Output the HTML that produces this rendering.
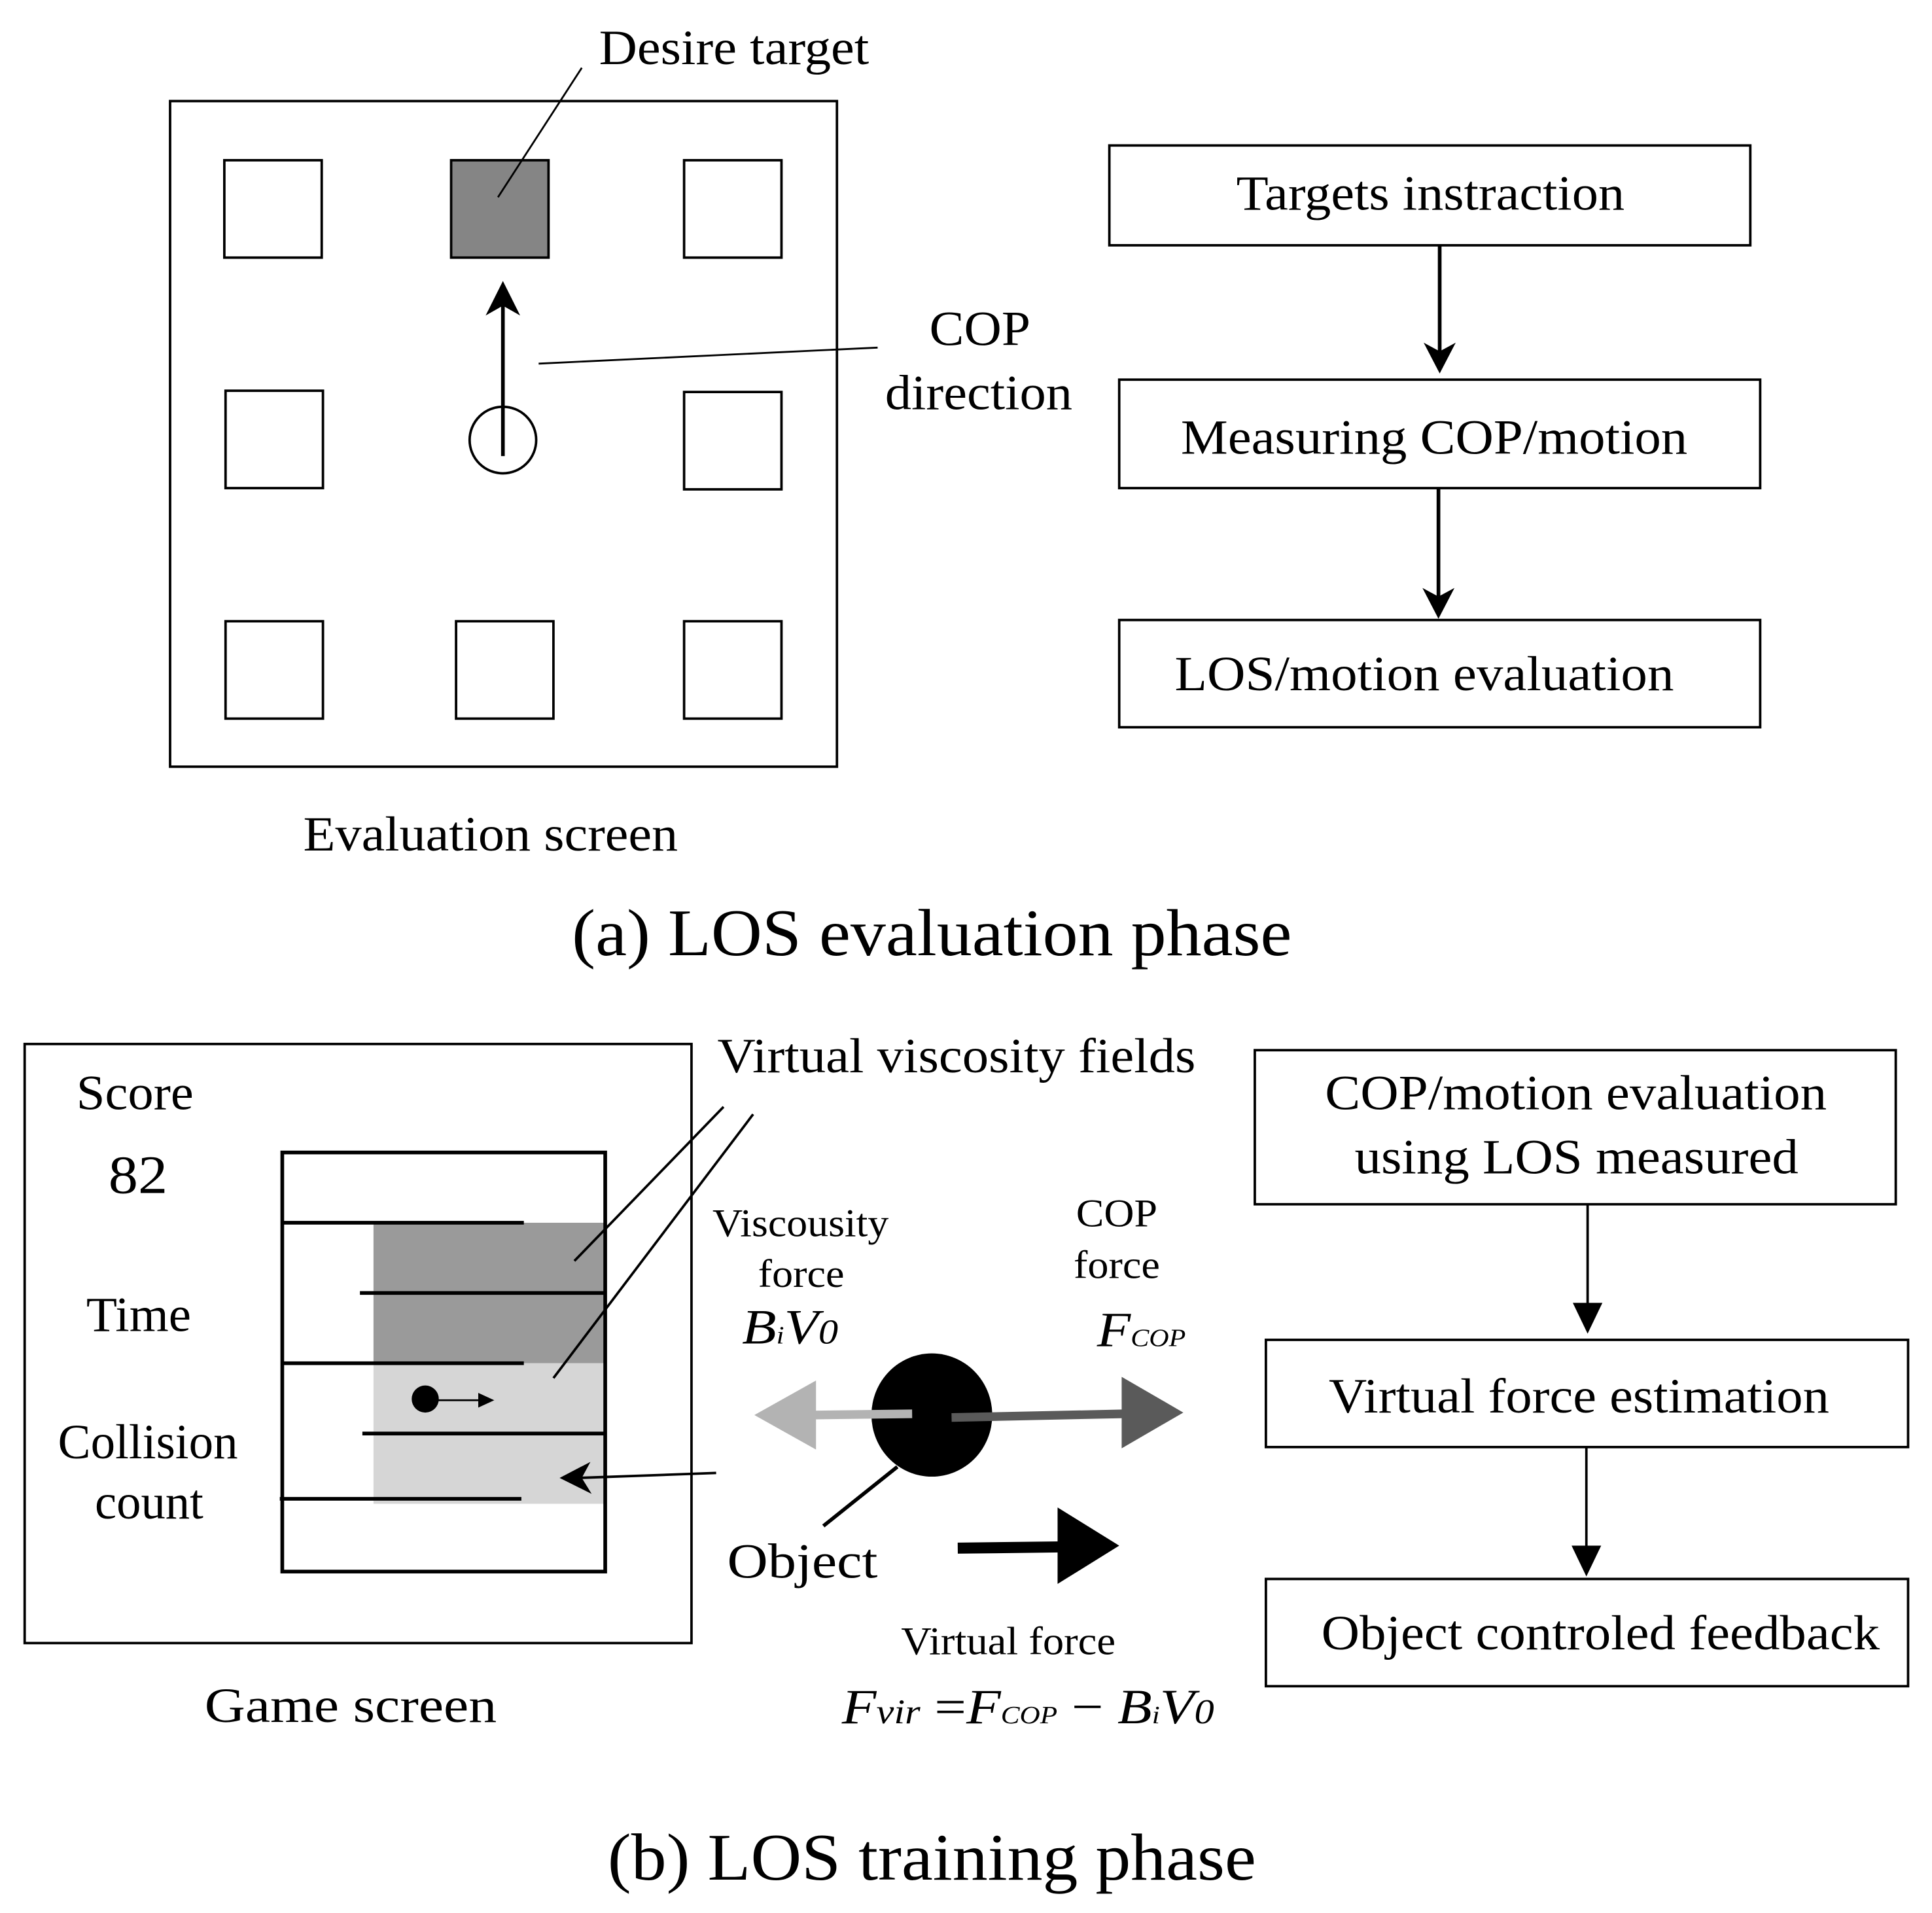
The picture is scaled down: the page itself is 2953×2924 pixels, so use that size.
<!DOCTYPE html>
<html><head><meta charset="utf-8"><style>
html,body{margin:0;padding:0;background:#fff;}
svg{display:block;}
text{font-family:"Liberation Serif",serif;fill:#000;}
</style></head><body>
<svg width="2953" height="2924" viewBox="0 0 1567.4 1552" preserveAspectRatio="none" xmlns="http://www.w3.org/2000/svg">
<rect width="1568" height="1552" fill="#fff"/>
<g fill="none" stroke="#000" stroke-width="2">
<rect x="138" y="82" width="541" height="540"/>
<rect x="182" y="130" width="79" height="79"/>
<rect x="366" y="130" width="79" height="79" fill="#858585"/>
<rect x="555" y="130" width="79" height="79"/>
<rect x="183" y="317" width="79" height="79"/>
<rect x="555" y="318" width="79" height="79"/>
<rect x="183" y="504" width="79" height="79"/>
<rect x="370" y="504" width="79" height="79"/>
<rect x="555" y="504" width="79" height="79"/>
<circle cx="408" cy="357" r="27"/>
<line x1="472" y1="55" x2="404" y2="160" stroke-width="1.5"/>
<line x1="437" y1="295" x2="712" y2="282" stroke-width="1.5"/>
<line x1="408" y1="370" x2="408" y2="244" stroke-width="3"/>
<rect x="900" y="118" width="520" height="81"/>
<rect x="908" y="308" width="520" height="88"/>
<rect x="908" y="503" width="520" height="87"/>
<line x1="1168" y1="199" x2="1168" y2="285" stroke-width="3"/>
<line x1="1167" y1="396" x2="1167" y2="484" stroke-width="3"/>
<rect x="20" y="847" width="541" height="486"/>
</g>
<polygon points="408,228 394,256 408,248 422,256" fill="#000"/>
<polygon points="1168,303 1155,278 1168,285 1181,278" fill="#000"/>
<polygon points="1167,502 1154,477 1167,484 1180,477" fill="#000"/>

<rect x="303" y="992" width="188" height="114" fill="#9a9a9a"/>
<rect x="303" y="1106" width="188" height="114" fill="#d6d6d6"/>
<g stroke="#000" stroke-width="3" fill="none">
<rect x="229" y="935" width="262" height="340"/>
<line x1="229" y1="992" x2="425" y2="992"/>
<line x1="292" y1="1049" x2="491" y2="1049"/>
<line x1="229" y1="1106" x2="425" y2="1106"/>
<line x1="294" y1="1163" x2="491" y2="1163"/>
<line x1="227" y1="1216" x2="423" y2="1216"/>
</g>
<g stroke="#000" stroke-width="2">
<line x1="587" y1="898" x2="466" y2="1023"/>
<line x1="611" y1="904" x2="449" y2="1118"/>
<line x1="345" y1="1136" x2="392" y2="1136" stroke-width="1.5"/>
<line x1="581" y1="1195" x2="470" y2="1199"/>
<line x1="668" y1="1238" x2="728" y2="1190" stroke-width="3"/>
<line x1="1288" y1="977" x2="1288" y2="1062"/>
<line x1="1287" y1="1174" x2="1287" y2="1259"/>
</g>
<ellipse cx="345" cy="1135" rx="11" ry="11" fill="#000"/>
<polygon points="401,1136 388,1130 388,1142" fill="#000"/>
<polygon points="454,1199 479,1186 472,1199 480,1212" fill="#000"/>
<polygon points="1288,1082 1276,1057 1300,1057" fill="#000"/>
<polygon points="1287,1279 1275,1254 1299,1254" fill="#000"/>
<g fill="none" stroke="#000" stroke-width="2">
<rect x="1018" y="852" width="520" height="125"/>
<rect x="1027" y="1087" width="521" height="87"/>
<rect x="1027" y="1281" width="521" height="87"/>
</g>

<ellipse cx="756" cy="1148" rx="49" ry="50" fill="#000"/>
<line x1="740" y1="1147" x2="660" y2="1148" stroke="#b3b3b3" stroke-width="7"/>
<polygon points="612,1148 662,1120 662,1176" fill="#b3b3b3"/>
<line x1="772" y1="1150" x2="912" y2="1147" stroke="#5a5a5a" stroke-width="7"/>
<polygon points="960,1146 910,1117 910,1175" fill="#5a5a5a"/>
<line x1="777" y1="1256" x2="860" y2="1255" stroke="#000" stroke-width="9"/>
<polygon points="908,1254 858,1223 858,1285" fill="#000"/>

<g font-size="40">
<text x="486" y="52" textLength="219" lengthAdjust="spacingAndGlyphs">Desire target</text>
<text x="754" y="280" textLength="82" lengthAdjust="spacingAndGlyphs">COP</text>
<text x="718" y="332" textLength="152" lengthAdjust="spacingAndGlyphs">direction</text>
<text x="1003" y="170" textLength="315" lengthAdjust="spacingAndGlyphs">Targets instraction</text>
<text x="958" y="368" textLength="411" lengthAdjust="spacingAndGlyphs">Measuring COP/motion</text>
<text x="953" y="560" textLength="405" lengthAdjust="spacingAndGlyphs">LOS/motion evaluation</text>
<text x="246" y="690" textLength="304" lengthAdjust="spacingAndGlyphs">Evaluation screen</text>
</g>
<text x="464" y="775" font-size="54" textLength="584" lengthAdjust="spacingAndGlyphs">(a) LOS evaluation phase</text>

<g font-size="40">
<text x="582" y="870" textLength="388" lengthAdjust="spacingAndGlyphs">Virtual viscosity fields</text>
<text x="62" y="900" textLength="95" lengthAdjust="spacingAndGlyphs">Score</text>
<text x="88" y="968" font-size="44" textLength="48" lengthAdjust="spacingAndGlyphs">82</text>
<text x="70" y="1080" textLength="85" lengthAdjust="spacingAndGlyphs">Time</text>
<text x="47" y="1183" textLength="146" lengthAdjust="spacingAndGlyphs">Collision</text>
<text x="77" y="1232" textLength="88" lengthAdjust="spacingAndGlyphs">count</text>
<text x="590" y="1280" textLength="122" lengthAdjust="spacingAndGlyphs">Object</text>
<text x="166" y="1397" textLength="237" lengthAdjust="spacingAndGlyphs">Game screen</text>
<text x="1075" y="900" textLength="407" lengthAdjust="spacingAndGlyphs">COP/motion evaluation</text>
<text x="1099" y="952" textLength="360" lengthAdjust="spacingAndGlyphs">using LOS measured</text>
<text x="1078" y="1146" textLength="406" lengthAdjust="spacingAndGlyphs">Virtual force estimation</text>
<text x="1072" y="1338" textLength="453" lengthAdjust="spacingAndGlyphs">Object controled feedback</text>
</g>
<g font-size="32">
<text x="578" y="1003" textLength="143" lengthAdjust="spacingAndGlyphs">Viscousity</text>
<text x="615" y="1044" textLength="70" lengthAdjust="spacingAndGlyphs">force</text>
<text x="873" y="995" textLength="66" lengthAdjust="spacingAndGlyphs">COP</text>
<text x="871" y="1037" textLength="70" lengthAdjust="spacingAndGlyphs">force</text>
<text x="731" y="1342" textLength="174" lengthAdjust="spacingAndGlyphs">Virtual force</text>
</g>
<g font-style="italic" font-size="40">
<text x="602" y="1090" textLength="78" lengthAdjust="spacingAndGlyphs">B<tspan font-size="20">i</tspan>V<tspan font-size="28">0</tspan></text>
<text x="890" y="1092" textLength="72" lengthAdjust="spacingAndGlyphs">F<tspan font-size="20">COP</tspan></text>
<text x="683" y="1398" textLength="302" lengthAdjust="spacingAndGlyphs">F<tspan font-size="28">vir</tspan><tspan font-style="normal"> =</tspan>F<tspan font-size="20">COP</tspan><tspan font-style="normal"> − </tspan>B<tspan font-size="20">i</tspan>V<tspan font-size="28">0</tspan></text>
</g>
<text x="493" y="1525" font-size="54" textLength="526" lengthAdjust="spacingAndGlyphs">(b) LOS training phase</text>
</svg>
</body></html>
